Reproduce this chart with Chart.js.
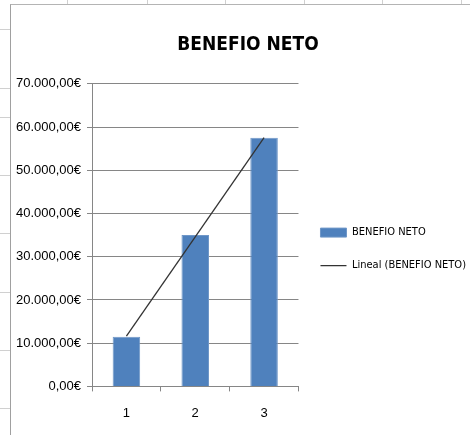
<!DOCTYPE html>
<html>
<head>
<meta charset="utf-8">
<script src="https://cdn.jsdelivr.net/npm/chart.js@4.4.1/dist/chart.umd.min.js"></script>
<style>
  html, body { margin: 0; padding: 0; background: #fff; overflow: hidden; }
  body { width: 470px; height: 435px; position: relative; }
  .sheet-h { position: absolute; left: 0; width: 10px; height: 1px; background: #d0d0d0; }
  .sheet-v { position: absolute; top: 0; width: 1px; height: 4px; background: #d0d0d0; }
  .sheet-dot { position: absolute; top: 432px; width: 1px; height: 2px; background: #d8d8d8; }
  #frame { position: absolute; left: 10px; top: 4px; width: 470px; height: 440px;
           border-left: 1px solid #a0a0a0; border-top: 1px solid #b4b4b4; background: #fff; }
  #wrap { position: absolute; left: 0; top: 0; width: 476px; height: 435px; }
  #chart { display: block; }
</style>
</head>
<body>
<div id="sheet"></div>
<div id="frame"></div>
<div id="wrap"><canvas id="chart" width="476" height="435"></canvas></div>
<script>
const categories = ['1', '2', '3'];
const beneficio = [11500, 35000, 57500];
// trend line (ends at bar 1 and bar 3)
const tendencia = [11650, 34600, 57550];
const yTicks = [0, 10000, 20000, 30000, 40000, 50000, 60000, 70000];

const sheetRows = [29, 88, 117, 175, 233, 292, 350, 408];
const sheetCols = [67, 147, 225, 304, 382, 461];

function drawSheet() {
  const sheet = document.getElementById('sheet');
  sheetRows.forEach((y) => {
    const d = document.createElement('div');
    d.className = 'sheet-h';
    d.style.top = y + 'px';
    sheet.appendChild(d);
  });
  sheetCols.forEach((x) => {
    const v = document.createElement('div');
    v.className = 'sheet-v';
    v.style.left = x + 'px';
    sheet.appendChild(v);
    const p = document.createElement('div');
    p.className = 'sheet-dot';
    p.style.left = x + 'px';
    sheet.appendChild(p);
  });
}

function euro(value) {
  const whole = Math.round(value).toString().replace(/\B(?=(\d{3})+(?!\d))/g, '.');
  return whole + ',00€';
}

drawSheet();

const gridGray = '#868686';
const narrow = "'Liberation Sans Narrow', 'DejaVu Sans Condensed', sans-serif";

// the title sits a bit right of the canvas centre in the original
const shiftTitle = {
  id: 'shiftTitle',
  afterLayout(chart) {
    if (chart.titleBlock) chart.titleBlock.left += 14;
  }
};

new Chart(document.getElementById('chart'), {
  data: {
    labels: categories,
    datasets: [
      {
        type: 'bar',
        label: 'BENEFIO NETO',
        data: beneficio,
        backgroundColor: '#4f81bd',
        borderColor: '#6f97c8',
        borderWidth: 1,
        categoryPercentage: 1,
        barPercentage: 0.4,
        pointStyle: 'rect',
        order: 1
      },
      {
        type: 'line',
        label: 'Lineal (BENEFIO NETO)',
        data: tendencia,
        borderColor: '#333333',
        borderWidth: 1.3,
        pointRadius: 0,
        fill: false,
        pointStyle: 'line',
        order: 0
      }
    ]
  },
  plugins: [shiftTitle],
  options: {
    responsive: false,
    animation: false,
    events: [],
    layout: { padding: { left: 6, right: 0, top: 0, bottom: 0 } },
    plugins: {
      title: {
        display: true,
        text: 'BENEFIO NETO',
        color: '#000',
        font: { family: narrow, size: 19, weight: 'bold' },
        padding: { top: 34, bottom: 27 }
      },
      legend: {
        position: 'right',
        fullSize: false,
        maxWidth: 240,
        // empty title only pushes the items down a little
        title: { display: true, text: ' ', padding: 8, font: { size: 10 } },
        labels: {
          usePointStyle: true,
          pointStyleWidth: 26,
          boxHeight: 9,
          padding: 22,
          color: '#000',
          font: { family: narrow, size: 11 },
          sort: (a, b) => a.datasetIndex - b.datasetIndex
        }
      },
      tooltip: { enabled: false }
    },
    scales: {
      x: {
        offset: true,
        grid: { offset: true, drawOnChartArea: false, drawTicks: true, tickLength: 5, color: gridGray },
        border: { color: gridGray },
        ticks: { color: '#000', padding: 14, font: { family: "'Liberation Sans', sans-serif", size: 13 } }
      },
      y: {
        min: 0,
        max: 70000,
        afterBuildTicks: (scale) => { scale.ticks = yTicks.map((v) => ({ value: v })); },
        afterFit: (scale) => { scale.width = 86; },
        grid: { color: gridGray, tickLength: 5 },
        border: { color: gridGray },
        ticks: {
          color: '#000',
          padding: 6,
          font: { family: "'Liberation Sans', sans-serif", size: 13 },
          callback: (v) => euro(v)
        }
      }
    }
  }
});
</script>
</body>
</html>
